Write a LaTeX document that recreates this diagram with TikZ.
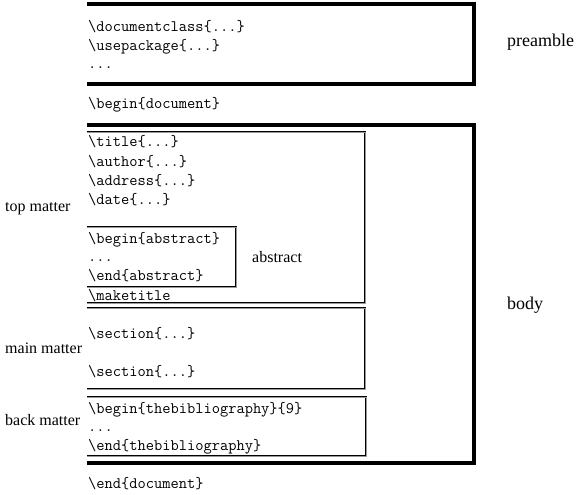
\documentclass[tikz,border=0pt]{standalone}
\usepackage{fontspec}
\setmainfont{Liberation Serif}
\usetikzlibrary{positioning}
\newcommand{\tbs}{\textbackslash}
\tikzset{
  outerbox/.style = {draw=black, line width=3.4pt, line join=miter},
  innerbox/.style = {draw=black, line width=0.9pt, double=black!40,
                     double distance=0.8pt, line join=miter},
  code/.style     = {anchor=base west, inner sep=0pt,
                     font=\fontsize{16}{19}\selectfont\ttfamily},
  lbl/.style      = {anchor=base west, inner sep=0pt,
                     font=\fontsize{16}{19}\selectfont},
  biglbl/.style   = {anchor=base west, inner sep=0pt,
                     font=\fontsize{18}{22}\selectfont},
}
\begin{document}
\begin{tikzpicture}[x=1pt,y=1pt]
  \useasboundingbox (0,0) rectangle (578,-495);
  % outer frames, open on the left
  \draw[outerbox] (87,-4) -| (474,-84) -- (87,-84);
  \draw[outerbox] (87,-125) -| (474,-463) -- (87,-463);
  % inner frames
  \draw[innerbox] (87,-132) -| (365,-303) -- (87,-303);
  \draw[innerbox] (87,-227) -| (236,-287) -- (87,-287);
  \draw[innerbox] (87,-308) -| (365,-389) -- (87,-389);
  \draw[innerbox] (87,-397) -| (366,-456) -- (87,-456);
  % preamble
  \node[code] (dc)   at (88,-32)  {\tbs documentclass\{...\}};
  \node[code] (up)   at (88,-51)  {\tbs usepackage\{...\}};
  \node[code] (pdot) at (88,-68)  {...};
  \node[code] (bd)   at (88,-108) {\tbs begin\{document\}};
  % top matter
  \node[code] (ti)   at (88,-146) {\tbs title\{...\}};
  \node[code] (au)   at (88,-166) {\tbs author\{...\}};
  \node[code] (ad)   at (88,-185) {\tbs address\{...\}};
  \node[code] (da)   at (88,-204) {\tbs date\{...\}};
  \node[code] (ba)   at (88,-243) {\tbs begin\{abstract\}};
  \node[code] (adot) at (88,-261) {...};
  \node[code] (ea)   at (88,-280) {\tbs end\{abstract\}};
  \node[code] (mt)   at (88,-300) {\tbs maketitle};
  % main matter
  \node[code] (s1)   at (88,-338) {\tbs section\{...\}};
  \node[code] (s2)   at (88,-376) {\tbs section\{...\}};
  % back matter
  \node[code] (bb)   at (88,-413) {\tbs begin\{thebibliography\}\{9\}};
  \node[code] (bdot) at (88,-431) {...};
  \node[code] (eb)   at (88,-450) {\tbs end\{thebibliography\}};
  \node[code] (ed)   at (88,-488) {\tbs end\{document\}};
  % labels
  \node[lbl] (ltop)  at (5,-211)   {top matter};
  \node[lbl] (lmain) at (5,-353)   {main matter};
  \node[lbl] (lback) at (5,-425)   {back matter};
  \node[lbl] (labs)  at (252,-262) {abstract};
  \node[biglbl] (lpre)  at (507,-47)  {preamble};
  \node[biglbl] (lbody) at (507,-309) {body};
\end{tikzpicture}
\end{document}
